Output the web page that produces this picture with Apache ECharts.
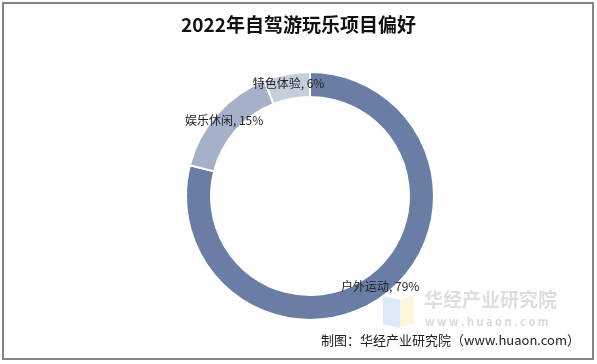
<!DOCTYPE html>
<html><head><meta charset="utf-8">
<script src="https://cdn.jsdelivr.net/npm/echarts@6/dist/echarts.min.js"></script>
<style>html,body{margin:0;padding:0;background:#fff}#c{width:597px;height:364px}</style>
</head><body><div id="c"></div>
<script>
var titleText = '2022年自驾游玩乐项目偏好';
var categories = ['户外运动', '娱乐休闲', '特色体验'];
var values = [79, 15, 6];
var colors = ['#6a7ea5', '#a4b1c9', '#c6cedd'];
var sourceText = '制图：华经产业研究院（www.huaon.com）';

var chart = echarts.init(document.getElementById('c'), null, {renderer: 'canvas'});
var font = '"Noto Sans CJK SC", "Noto Sans", sans-serif';
chart.setOption({
  animation: false,
  title: {
    text: titleText, left: 'center', top: 10,
    textStyle: {fontFamily: font, fontSize: 19, fontWeight: 'bold', color: '#111'}
  },
  graphic: [
    {type: 'rect', shape: {x: 3, y: 3, width: 590, height: 356}, style: {fill: 'none', stroke: '#858585', lineWidth: 2}, z: 0},
    {type: 'polygon', shape: {points: [[383, 296], [400, 300], [400, 328], [383, 324]]}, style: {fill: '#dde8f8'}, z: -1},
    {type: 'polygon', shape: {points: [[400, 300], [414, 295], [414, 323], [400, 328]]}, style: {fill: '#fdf6dc'}, z: -1},
    {type: 'text', left: 424, top: 290, style: {text: '华经产业研究院', font: 'bold 19px ' + font, fill: '#dedede'}, z: -1},
    {type: 'text', left: 425, top: 316, style: {text: 'w w w . h u a o n . c o m', font: 'bold 11px ' + font, fill: '#d8d8d8'}, z: -1},
    {type: 'text', right: 17, top: 334, style: {text: sourceText, font: '13px ' + font, fill: '#222'}, z: 5}
  ],
  series: [{
    type: 'pie',
    center: [310, 196],
    radius: [99, 124],
    startAngle: 90,
    clockwise: true,
    itemStyle: {borderColor: '#fff', borderWidth: 2},
    label: {
      show: true, position: 'inside',
      formatter: '{b}, {d}%',
      fontFamily: font, fontSize: 12, color: '#222'
    },
    labelLine: {show: false},
    data: categories.map(function (c, i) {
      return {name: c, value: values[i], itemStyle: {color: colors[i]}};
    })
  }]
});
</script></body></html>
